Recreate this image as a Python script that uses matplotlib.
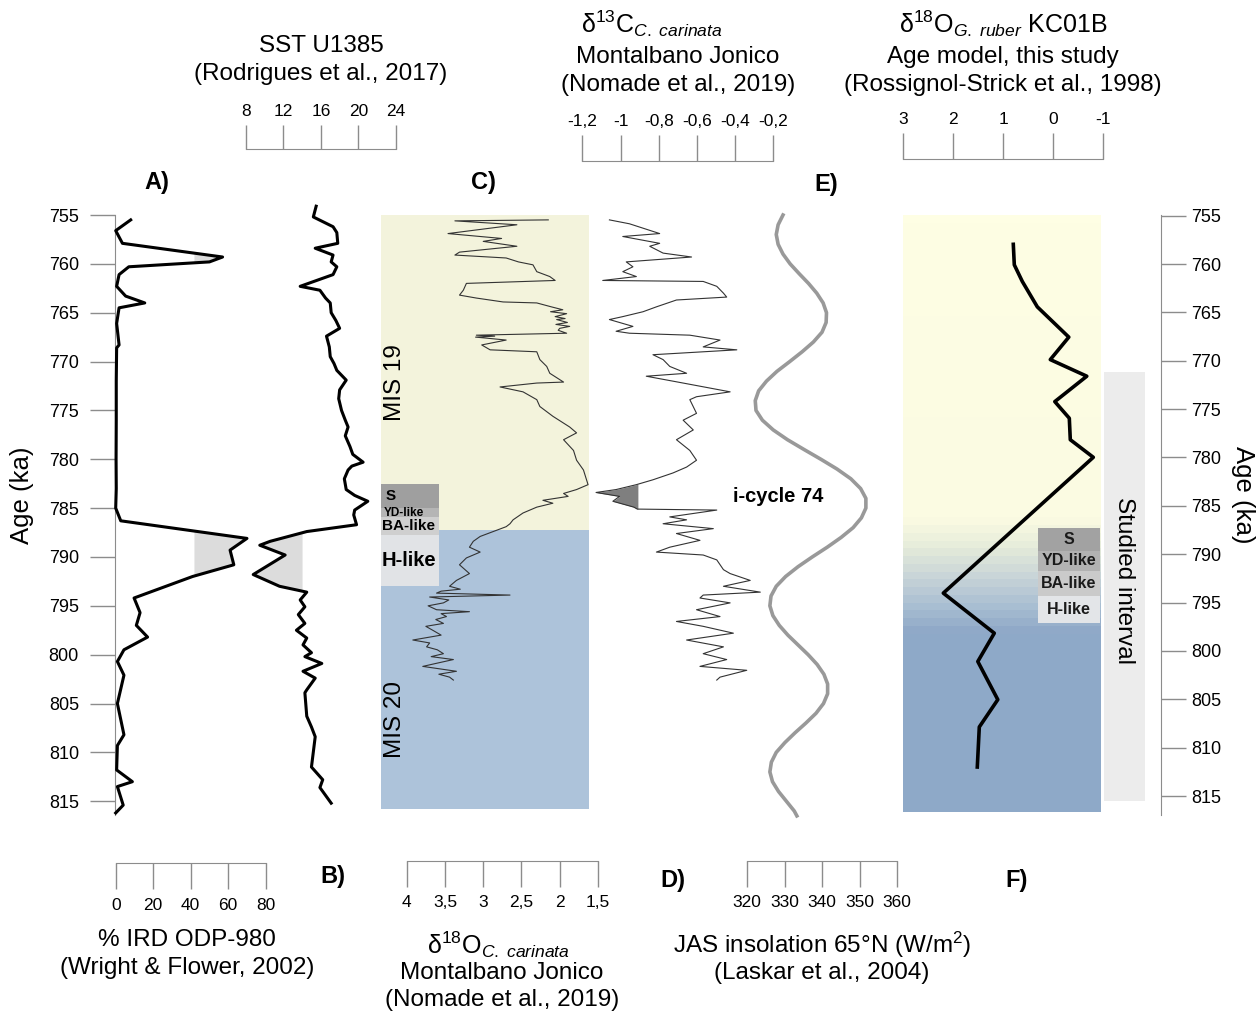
import numpy as np
import matplotlib
matplotlib.use("Agg")
import matplotlib.pyplot as plt
from matplotlib.colors import to_rgb

plt.rcParams['font.family'] = ['Liberation Sans', 'DejaVu Sans']
plt.rcParams['mathtext.fontset'] = 'custom'
plt.rcParams['mathtext.rm'] = 'Liberation Sans'
plt.rcParams['mathtext.it'] = 'Liberation Sans:italic'
plt.rcParams['mathtext.bf'] = 'Liberation Sans:bold'

# ---------------- DATA ----------------
age_ticks = [755, 760, 765, 770, 775, 780, 785, 790, 795, 800, 805, 810, 815]

# A) % IRD ODP-980
ird_age = [755.5, 756.6, 757.9, 759.3, 759.8, 760.3, 761.1, 762.3, 763.3, 764.0, 764.5, 766.1,
           768.3, 768.6, 772.0, 776.0, 780.0, 783.0, 785.0, 786.3, 788.1, 789.3, 790.8, 792.0,
           794.2, 795.7, 797.0, 798.2, 799.5, 800.7, 802.1, 805.0, 808.2, 809.3, 811.8, 813.0,
           813.5, 815.4, 816.2]
ird = [8, 0, 3.6, 57, 50, 7, 1.8, 0.5, 5.3, 15.5, 1.8, 0.5,
       1.8, 0.5, 0.3, 0.3, 0.2, 0.3, 0, 2.7, 70, 61, 63, 41,
       9.8, 13, 11, 17, 4.4, 0.9, 4.4, 0.9, 4.4, 0.9, 0.5, 8.9,
       0.9, 4, 0]

# B) SST U1385
sst_age = [754.1, 755.2, 756.2, 756.8, 757.9, 758.4, 759.1, 759.8, 760.3, 761.1, 762.3, 762.7,
           763.5, 764.0, 765.0, 765.8, 766.6, 767.4, 768.5, 769.5, 770.2, 770.9, 771.9, 772.9,
           773.8, 775.0, 776.0, 776.7, 777.6, 778.7, 779.5, 780.3, 780.7, 781.1, 782.0, 783.1,
           783.7, 784.3, 785.2, 785.7, 786.7, 787.4, 788.4, 788.8, 789.8, 791.8, 793.0, 793.6,
           794.4, 795.1, 795.9, 796.8, 797.5, 798.3, 799.0, 799.8, 800.2, 800.9, 801.7, 802.4,
           803.6, 803.9, 806.3, 807.4, 808.4, 811.5, 812.8, 813.6, 815.2]
sst = [15.5, 15.2, 17.3, 17.7, 17.8, 15.4, 17.3, 17.1, 17.7, 17.3, 13.8, 15.9,
       16.5, 17.0, 17.1, 17.6, 18.0, 16.6, 16.9, 17.0, 17.4, 17.7, 18.7, 18.0,
       17.9, 18.2, 18.6, 18.9, 18.6, 19.1, 19.4, 20.5, 19.3, 18.9, 18.5, 18.7,
       19.6, 21.0, 19.6, 19.5, 19.8, 14.5, 10.6, 9.5, 12.2, 8.8, 11.6, 14.5,
       13.8, 14.3, 13.6, 14.3, 13.4, 14.5, 14.1, 15.0, 14.3, 16.1, 14.1, 15.4,
       14.5, 14.3, 14.5, 15.0, 15.4, 15.0, 16.2, 15.9, 17.1]

# C) d18O C. carinata, Montalbano Jonico
d18c_age = [755.5, 755.6, 756.0, 756.9, 757.4, 757.7, 758.2, 758.8, 759.1, 759.4, 759.8, 760.1,
            760.8, 761.3, 761.7, 762.0, 762.7, 763.2, 763.5, 763.9, 764.0, 764.4, 764.7, 764.9,
            765.1, 765.4, 765.6, 765.7, 766.0, 766.2, 766.4, 766.6, 766.8, 767.1, 767.3, 767.4,
            767.5, 767.6, 767.8, 768.3, 768.8, 769.0, 769.8, 770.5, 771.2, 772.1, 772.2, 772.6,
            773.1, 773.9, 774.6, 775.6, 776.7, 777.3, 778.0, 779.1, 780.1, 781.1, 782.1, 782.6,
            783.1, 783.5, 783.8, 784.2, 784.5, 784.9, 785.5, 786.2, 786.6, 786.9, 787.4, 787.9,
            788.4, 789.0, 789.5, 790.1, 790.8, 791.7, 792.4, 793.0, 793.3, 793.5, 793.7, 793.9,
            794.1, 794.4, 794.7, 795.0, 795.4, 795.6, 795.8, 796.1, 796.4, 796.8, 797.1, 797.5,
            798.0, 798.5, 798.8, 799.2, 799.5, 799.9, 800.2, 800.5, 800.9, 801.2, 801.7, 802.0,
            802.3, 802.6]
d18c = [2.15, 3.37, 2.56, 3.46, 2.76, 3.00, 2.56, 3.31, 3.37, 2.70, 2.54, 2.35,
        2.30, 2.13, 2.06, 3.22, 3.26, 3.31, 3.09, 2.74, 2.30, 2.11, 1.96, 2.12,
        1.91, 2.06, 1.93, 2.04, 1.90, 2.05, 1.87, 2.00, 2.02, 1.91, 3.09, 2.85,
        3.10, 2.96, 2.70, 3.02, 2.91, 2.30, 2.26, 2.17, 2.13, 1.95, 2.30, 2.78,
        2.48, 2.30, 2.26, 2.09, 1.87, 1.78, 1.95, 1.82, 1.78, 1.69, 1.65, 1.63,
        1.78, 1.95, 1.89, 2.22, 2.09, 2.30, 2.48, 2.61, 2.65, 2.70, 2.87, 3.04,
        3.13, 3.18, 3.04, 3.22, 3.31, 3.18, 3.35, 3.44, 3.30, 3.55, 3.61, 2.65,
        3.70, 3.45, 3.52, 3.72, 3.61, 3.18, 3.55, 3.48, 3.62, 3.52, 3.75, 3.66,
        3.55, 3.92, 3.70, 3.74, 3.60, 3.52, 3.68, 3.39, 3.62, 3.79, 3.35, 3.58,
        3.44, 3.39]

# D) d13C C. carinata, Montalbano Jonico
d13c_age = [755.5, 755.9, 756.9, 757.2, 757.9, 758.2, 758.9, 759.3, 759.8, 760.3, 760.8, 761.3,
            761.7, 761.8, 762.3, 763.0, 763.4, 763.7, 764.4, 764.9, 765.4, 765.7, 766.4, 766.9,
            767.1, 767.3, 767.8, 768.5, 768.8, 769.3, 769.8, 770.5, 771.2, 771.5, 772.2, 773.1,
            773.6, 773.9, 775.3, 776.0, 777.0, 778.0, 779.1, 780.1, 780.8, 781.4, 782.1, 782.6,
            783.1, 783.4, 783.8, 784.3, 784.9, 785.1, 785.2, 785.9, 786.2, 786.6, 787.1, 787.6,
            788.3, 789.0, 789.5, 789.8, 790.3, 791.3, 791.7, 792.4, 793.0, 793.6, 793.9, 794.2,
            794.7, 795.4, 796.1, 796.6, 797.1, 797.8, 798.5, 799.2, 799.9, 800.5, 801.2, 801.6,
            802.3, 802.6]
d13c = [-1.058, -0.953, -0.795, -0.988, -0.795, -0.847, -0.777, -0.628, -0.970, -0.935, -0.988, -0.917,
        -1.093, -0.567, -0.496, -0.461, -0.444, -0.707, -0.812, -0.882, -0.988, -1.058, -0.935, -1.023,
        -0.953, -0.637, -0.479, -0.567, -0.391, -0.830, -0.777, -0.742, -0.654, -0.865, -0.672, -0.426,
        -0.602, -0.637, -0.602, -0.672, -0.619, -0.707, -0.637, -0.602, -0.654, -0.725, -0.830, -0.917,
        -1.023, -1.128, -1.005, -1.040, -0.930, -0.912, -0.496, -0.742, -0.654, -0.777, -0.514, -0.707,
        -0.584, -0.742, -0.812, -0.567, -0.496, -0.461, -0.426, -0.321, -0.461, -0.268, -0.567, -0.584,
        -0.426, -0.602, -0.479, -0.707, -0.567, -0.409, -0.654, -0.461, -0.567, -0.444, -0.584, -0.339,
        -0.479, -0.496]

# E) JAS insolation 65N (Laskar et al., 2004)
ins_age = [755, 756, 757, 758, 759, 760, 761, 762, 763, 764, 765, 766, 767, 768, 769, 770,
           771, 772, 773, 774, 775, 776, 777, 778, 779, 780, 781, 782, 783, 784, 785, 786,
           787, 788, 789, 790, 791, 792, 793, 794, 795, 796, 797, 798, 799, 800, 801, 802,
           803, 804, 805, 806, 807, 808, 809, 810, 811, 812, 813, 814, 815, 816, 816.5]
ins = [329.6, 328.3, 327.8, 328.3, 329.6, 331.5, 333.9, 336.4, 338.6, 340.3, 341.2, 341.1,
       340.0, 337.7, 334.7, 331.4, 328.0, 325.2, 323.1, 322.2, 322.4, 324.1, 327.0, 330.8,
       335.2, 339.7, 344.0, 347.7, 350.3, 351.7, 351.7, 350.5, 348.3, 345.1, 341.4, 337.4,
       333.6, 330.3, 327.8, 326.4, 326.1, 326.9, 328.6, 330.9, 333.6, 336.3, 338.7, 340.5,
       341.5, 341.5, 340.4, 338.4, 335.7, 332.8, 330.1, 327.8, 326.5, 326.1, 326.8, 328.4,
       330.5, 332.6, 333.3]

# F) d18O G. ruber KC01B
gr_age = [758.0, 760.1, 761.8, 764.4, 767.5, 769.8, 771.5, 774.1, 775.8, 778.0, 779.8, 793.7,
          797.8, 800.7, 804.6, 807.4, 811.5]
gr = [0.80, 0.78, 0.62, 0.32, -0.31, 0.06, -0.67, -0.03, -0.32, -0.34, -0.80, 2.20,
      1.18, 1.51, 1.11, 1.48, 1.52]

# stages and events
mis19 = (755, 787.2)
mis20 = (787.2, 815.8)
events_c = [('S', 782.55, 785.0, '#9f9f9f'), ('YD-like', 785.0, 785.9, '#b5b5b5'),
            ('BA-like', 785.9, 787.8, '#cfcfcf'), ('H-like', 787.8, 793.0, '#e1e3e6')]
events_f = [('S', 787.0, 789.4, '#a2a2a2'), ('YD-like', 789.4, 791.4, '#b2b2b2'),
            ('BA-like', 791.4, 794.0, '#cacaca'), ('H-like', 794.0, 796.8, '#e3e5e8')]
grad_age = [755, 786.0, 789.0, 792.0, 795.0, 797.5, 816.1]
grad_col = ['#fefee4', '#fbfbe2', '#e4ebda', '#c8d4d8', '#a8bed2', '#8fa9c8', '#8ea9c8']
studied = (771.1, 815.0)

# ---------------- FIGURE ----------------
W, H = 1259, 1014
fig = plt.figure(figsize=(W / 100, H / 100), dpi=100)
GRAY = '#8c8c8c'
Y_TOP, Y_BOT = 215, 815
AGE_LIM = (816.41, 755)


def add_ax(x0, x1, y0, y1):
    return fig.add_axes([x0 / W, 1 - y1 / H, (x1 - x0) / W, (y1 - y0) / H])


def panel(x0, x1, xlim, ylim=AGE_LIM):
    ax = add_ax(x0, x1, Y_TOP, Y_BOT)
    ax.set_xlim(*xlim)
    ax.set_ylim(*ylim)
    ax.patch.set_alpha(0)
    ax.axis('off')
    return ax


def txt(x, y, s, **kw):
    kw.setdefault('ha', 'center')
    kw.setdefault('va', 'center')
    kw.setdefault('fontsize', 17.5)
    fig.text(x / W, 1 - y / H, s, **kw)


def scale(x0, x1, y0, y1, xlim, ticks, labels, top=True, pad=4):
    ax = add_ax(x0, x1, y0, y1)
    ax.set_xlim(*xlim)
    ax.set_ylim(0, 1)
    ax.patch.set_alpha(0)
    for s in ax.spines.values():
        s.set_visible(False)
    base = 'bottom' if top else 'top'
    ax.spines[base].set_visible(True)
    ax.spines[base].set_color(GRAY)
    ax.vlines(ticks, 0, 1, color=GRAY, lw=1, clip_on=False)
    ax.set_yticks([])
    if top:
        ax.xaxis.tick_top()
    ax.set_xticks(ticks, labels)
    ax.tick_params(axis='x', length=0, labelsize=12.5, pad=pad)
    return ax


# backgrounds: panel C
bgC = panel(381, 589, (0, 1))
bgC.axhspan(*mis19, color='#f3f3dc', lw=0)
bgC.axhspan(*mis20, color='#adc3da', lw=0)
xe = (439 - 381) / 208
for name, a0, a1, col in events_c:
    bgC.axhspan(a0, a1, xmin=0, xmax=xe, color=col, lw=0)
bgC.text(0.024, 783.8, 'S', fontsize=11, fontweight='bold', ha='left', va='center')
bgC.text(0.015, 785.45, 'YD-like', fontsize=8.5, fontweight='bold', ha='left', va='center')
bgC.text(0.005, 786.85, 'BA-like', fontsize=11, fontweight='bold', ha='left', va='center')
bgC.text(0.005, 790.4, 'H-like', fontsize=14.5, fontweight='bold', ha='left', va='center')

# backgrounds: panel F (stepped gradient)
bgF = panel(903, 1100, (0, 1))
rows = np.arange(755, 816.1, 0.8)
rgb = np.array([to_rgb(c) for c in grad_col])
img = np.stack([np.interp(rows, grad_age, rgb[:, k]) for k in range(3)], axis=-1)[:, None, :]
bgF.imshow(img, extent=[0, 1, 816.1, 755], aspect='auto', interpolation='nearest')
bgF.set_xlim(0, 1)
bgF.set_ylim(*AGE_LIM)
xf = (1037.7 - 903) / 197
for name, a0, a1, col in events_f:
    bgF.axhspan(a0, a1, xmin=xf, xmax=1, color=col, lw=0)
    bgF.text((xf + 1) / 2, (a0 + a1) / 2, name, fontsize=11.5, fontweight='bold',
             ha='center', va='center', color='#1a1a1a')

# studied interval
bgS = panel(1104, 1145, (0, 1))
bgS.axhspan(*studied, color='#ececec', lw=0)
bgS.text(0.5, 792.4, 'Studied interval', rotation=270, fontsize=17.5, ha='center', va='center')

# left age axis
axL = add_ax(115, 265, Y_TOP, Y_BOT)
axL.set_ylim(*AGE_LIM)
axL.patch.set_alpha(0)
for s in ['top', 'right', 'bottom']:
    axL.spines[s].set_visible(False)
axL.spines['left'].set_color(GRAY)
axL.set_xticks([])
axL.set_yticks(age_ticks, [str(t) for t in age_ticks])
axL.tick_params(axis='y', length=18, width=1, color=GRAY, labelsize=13, pad=8)

# right age axis
axR = add_ax(1100, 1161, Y_TOP, Y_BOT)
axR.set_ylim(816.96, 754.93)
axR.patch.set_alpha(0)
for s in ['top', 'left', 'bottom']:
    axR.spines[s].set_visible(False)
axR.spines['right'].set_color(GRAY)
axR.set_xticks([])
axR.yaxis.tick_right()
axR.set_yticks(age_ticks, [str(t) for t in age_ticks])
axR.tick_params(axis='y', length=18, width=1, color=GRAY, labelsize=13, pad=4)

# curves
axA = panel(115.7, 265.7, (0, 80))
ia, iv = np.array(ird_age), np.array(ird)
axA.fill_betweenx(ia, iv, 42, where=iv >= 42, interpolate=True, color='#dcdcdc', lw=0)
axA.plot(iv, ia, color='k', lw=2.2, clip_on=False)

axB = panel(245.7, 396, (8, 24))
sa, sv = np.array(sst_age), np.array(sst)
axB.fill_betweenx(sa, sv, 14, where=(sv <= 14) & (sa > 786) & (sa < 794), interpolate=True,
                  color='#dcdcdc', lw=0)
axB.plot(sv, sa, color='k', lw=2.2, clip_on=False)

axC = panel(406.7, 598, (4, 1.5))
axC.plot(d18c, d18c_age, color='#333333', lw=0.8, clip_on=False)

axD = panel(582.3, 773.3, (-1.2, -0.2))
da, dv = np.array(d13c_age), np.array(d13c)
axD.fill_betweenx(da, dv, -0.909, where=(dv <= -0.905) & (da > 782) & (da < 785.15),
                  interpolate=True, color='#7f7f7f', lw=0)
axD.plot(dv, da, color='#333333', lw=0.8, clip_on=False)

axE = panel(747, 897, (320, 360))
axE.plot(ins, ins_age, color='#999999', lw=2.6, clip_on=False)

axF = panel(903.3, 1103.3, (3, -1))
axF.plot(gr, gr_age, color='k', lw=2.6, clip_on=False)

# scale bars
scale(245.7, 396, 125, 149.3, (8, 24), [8, 12, 16, 20, 24], ['8', '12', '16', '20', '24'], top=True, pad=4)
scale(582.3, 773.3, 135, 160.7, (-1.2, -0.2), [-1.2, -1.0, -0.8, -0.6, -0.4, -0.2],
      ['-1,2', '-1', '-0,8', '-0,6', '-0,4', '-0,2'], top=True, pad=4)
scale(903.3, 1103.3, 133, 159.3, (3, -1), [3, 2, 1, 0, -1], ['3', '2', '1', '0', '-1'], top=True, pad=4)
scale(115.7, 265.7, 863.3, 889.3, (0, 80), [0, 20, 40, 60, 80], ['0', '20', '40', '60', '80'],
      top=False, pad=6)
scale(406.7, 598, 861, 886.7, (4, 1.5), [4, 3.5, 3, 2.5, 2, 1.5], ['4', '3,5', '3', '2,5', '2', '1,5'],
      top=False, pad=6)
scale(747, 897, 861, 886.7, (320, 360), [320, 330, 340, 350, 360], ['320', '330', '340', '350', '360'],
      top=False, pad=6)

# titles
txt(321, 46, 'SST U1385')
txt(321, 74, '(Rodrigues et al., 2017)')
txt(652, 24, r'δ$^{13}$C$_{\mathit{C.\ carinata}}$', fontsize=18)
txt(678, 57, 'Montalbano Jonico')
txt(678, 85, '(Nomade et al., 2019)')
txt(1003, 24, r'δ$^{18}$O$_{\mathit{G.\ ruber}}$ KC01B', fontsize=18)
txt(1003, 57, 'Age model, this study')
txt(1003, 85, '(Rossignol-Strick et al., 1998)')

txt(187, 940, '% IRD ODP-980')
txt(187, 968, '(Wright & Flower, 2002)')
txt(498, 945, r'δ$^{18}$O$_{\mathit{C.\ carinata}}$', fontsize=18)
txt(502, 973, 'Montalbano Jonico')
txt(502, 1000, '(Nomade et al., 2019)')
txt(822, 945, r'JAS insolation 65°N (W/m$^{2}$)')
txt(822, 973, '(Laskar et al., 2004)')

# panel letters
for lab, x, y in [('A)', 157, 183), ('C)', 483, 183), ('E)', 826, 185),
                  ('B)', 333, 877), ('D)', 673, 880), ('F)', 1017, 880)]:
    txt(x, y, lab, fontsize=17, fontweight='bold')

txt(395, 383, 'MIS 19', rotation=90)
txt(395, 720, 'MIS 20', rotation=90)
txt(733, 497, 'i-cycle 74', ha='left', fontsize=14.5, fontweight='bold')
txt(22, 495, 'Age (ka)', rotation=90, fontsize=18.5)
txt(1243, 495, 'Age (ka)', rotation=270, fontsize=18.5)

fig.savefig('out.png', dpi=100)
